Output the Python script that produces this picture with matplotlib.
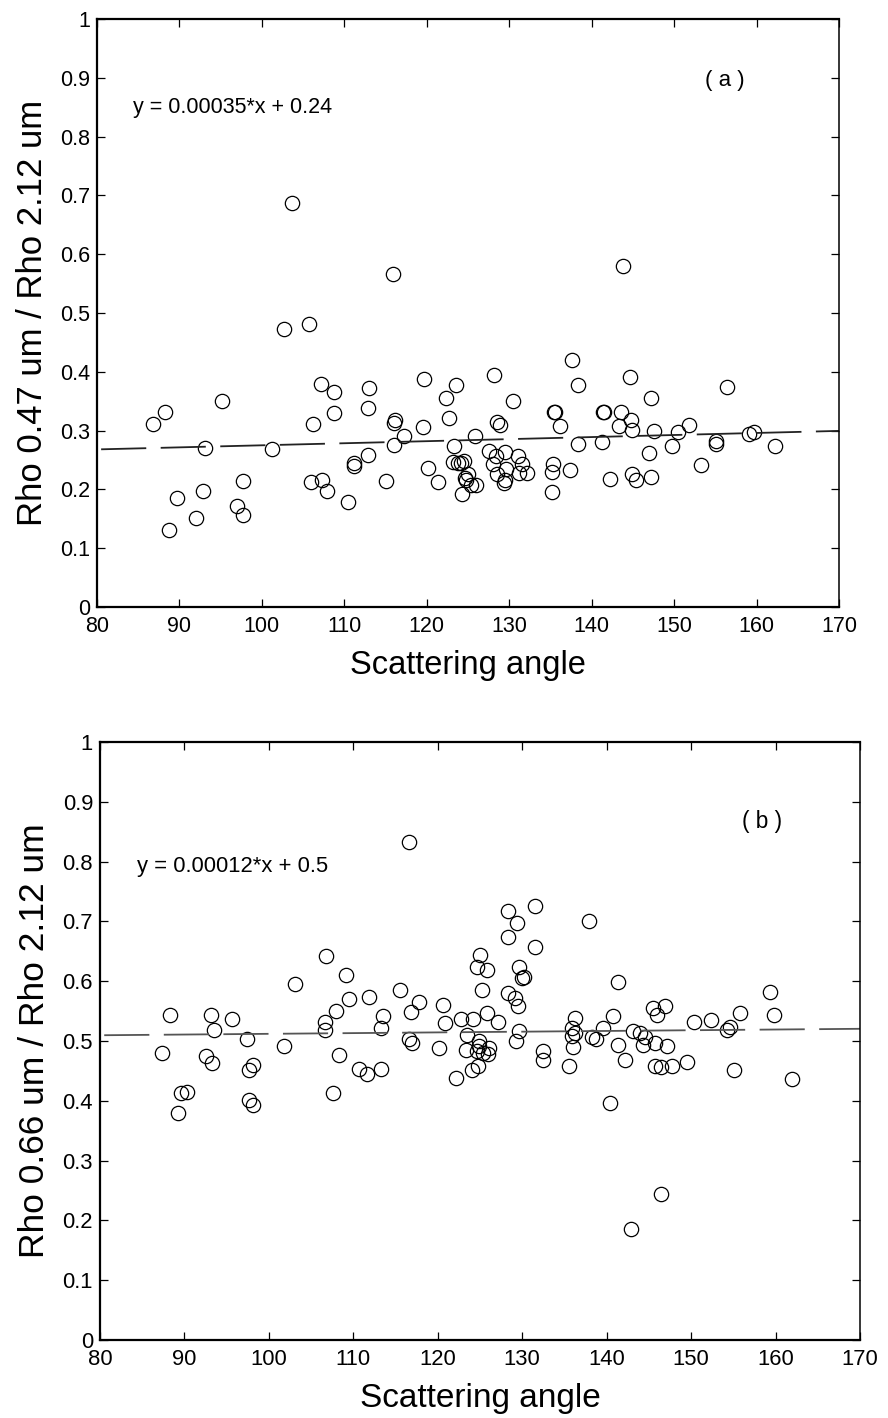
"""Rho ratio vs scattering angle: two scatter panels with linear fits."""

import numpy as np
import matplotlib
matplotlib.use('Agg')
import matplotlib.pyplot as plt

plt.rcParams['font.family'] = ['Liberation Sans', 'DejaVu Sans']

# ── panel (a): Rho 0.47 / Rho 2.12 ──
angle_a = [86.8, 88.2, 88.7, 89.7, 92.0, 92.9, 93.1, 95.2, 97.0, 97.7,
           97.7, 101.2, 102.7, 105.7, 106.2, 106.0, 107.2, 107.3, 107.9, 108.7,
           108.7, 110.4, 111.2, 111.2, 112.9, 112.9, 113.0, 115.1, 116.0, 116.0,
           116.2, 117.2, 119.6, 119.7, 120.2, 121.4, 103.7, 115.9, 143.8,
           122.3, 122.7, 123.6, 123.3, 123.2, 123.8, 124.1, 124.5, 124.6, 125.0,
           124.3, 124.8, 125.4, 126.0, 125.8, 127.5, 128.1, 128.4, 128.0, 128.5,
           128.9, 128.5, 129.5, 129.6, 129.4, 129.5, 130.5, 131.1, 131.5, 131.2,
           132.1, 135.3, 135.2, 135.2, 135.4, 135.5, 136.2, 137.4, 137.6, 138.4,
           138.4, 141.2, 141.4, 141.5, 142.2, 143.5, 143.3, 144.7, 144.8, 144.9,
           144.9, 145.4, 146.9, 147.2, 147.2, 147.6, 149.7, 150.5, 151.8, 153.3,
           155.1, 155.1, 156.4, 159.1, 159.7, 162.2]
ratio_a = [0.312, 0.332, 0.131, 0.186, 0.151, 0.198, 0.271, 0.351, 0.172, 0.157,
           0.215, 0.268, 0.473, 0.482, 0.312, 0.2125, 0.380, 0.216, 0.197, 0.365,
           0.330, 0.178, 0.245, 0.239, 0.259, 0.338, 0.373, 0.215, 0.275, 0.3125,
           0.318, 0.290, 0.306, 0.388, 0.236, 0.2125, 0.687, 0.566, 0.580,
           0.356, 0.321, 0.377, 0.274, 0.247, 0.245, 0.245, 0.248, 0.220, 0.227,
           0.193, 0.216, 0.207, 0.207, 0.291, 0.265, 0.395, 0.256, 0.244, 0.315,
           0.310, 0.226, 0.263, 0.235, 0.211, 0.216, 0.351, 0.257, 0.243, 0.228,
           0.228, 0.244, 0.230, 0.195, 0.332, 0.331, 0.307, 0.233, 0.420, 0.377,
           0.277, 0.280, 0.332, 0.331, 0.218, 0.332, 0.307, 0.391, 0.318, 0.301,
           0.226, 0.216, 0.2625, 0.356, 0.2215, 0.300, 0.274, 0.298, 0.309, 0.242,
           0.283, 0.277, 0.374, 0.294, 0.297, 0.274]
slope_a, icept_a = 0.00035, 0.24

# ── panel (b): Rho 0.66 / Rho 2.12 ──
angle_b = [116.6, 106.8, 103.1, 109.1, 109.5, 108.0, 111.8, 115.5, 117.8, 116.8,
           120.6, 88.3, 93.1, 95.6, 93.5, 87.3, 92.5, 93.3, 89.6, 90.3,
           89.2, 97.4, 97.7, 98.1, 97.7, 98.1, 101.8, 106.6, 106.6, 108.3,
           107.6, 110.7, 111.6, 113.5, 113.3, 113.3, 116.6, 117.0, 120.8, 120.1,
           122.2, 122.8, 124.2, 123.5, 123.3, 124.1,
           124.8, 124.9, 124.9, 124.6, 126.1, 125.8, 127.1, 125.3, 126.0, 128.3,
           129.1, 129.5, 129.6, 129.3, 132.5, 132.5, 135.5, 135.9, 136.3, 136.3,
           135.9, 136.0, 138.3, 138.7, 139.6, 140.8, 141.4, 141.4, 140.4, 142.2,
           143.1, 143.9, 144.5, 144.3, 145.7, 145.5, 146.0, 146.9, 147.2, 145.7,
           146.4, 147.7, 149.5, 150.4, 152.3, 154.6, 154.2, 155.8, 155.1, 159.3,
           159.8, 161.9, 146.4, 142.9, 125.2,
           128.3, 129.4, 131.5, 128.3, 131.5, 137.9, 125.0, 124.6, 125.8, 129.6,
           130.0, 130.2]
ratio_b = [0.833, 0.642, 0.596, 0.610, 0.570, 0.550, 0.574, 0.585, 0.566, 0.548,
           0.561, 0.544, 0.544, 0.536, 0.518, 0.480, 0.475, 0.463, 0.4125, 0.4153,
           0.380, 0.504, 0.452, 0.460, 0.402, 0.393, 0.492, 0.531, 0.518, 0.477,
           0.4125, 0.453, 0.444, 0.542, 0.522, 0.453, 0.504, 0.497, 0.530, 0.488,
           0.438, 0.536, 0.536, 0.510, 0.485, 0.452,
           0.459, 0.500, 0.492, 0.483, 0.489, 0.546, 0.532, 0.480, 0.479, 0.580,
           0.572, 0.559, 0.516, 0.500, 0.483, 0.468, 0.459, 0.521, 0.538, 0.514,
           0.508, 0.490, 0.507, 0.503, 0.521, 0.541, 0.494, 0.599, 0.396, 0.4675,
           0.517, 0.514, 0.506, 0.494, 0.497, 0.556, 0.544, 0.559, 0.492, 0.458,
           0.456, 0.459, 0.465, 0.532, 0.535, 0.524, 0.518, 0.546, 0.451, 0.582,
           0.544, 0.436, 0.244, 0.185, 0.585,
           0.718, 0.698, 0.726, 0.674, 0.657, 0.701, 0.644, 0.624, 0.618, 0.623,
           0.605, 0.607]
slope_b, icept_b = 0.00012, 0.5

fit_x = np.array([80.5, 170.0])


def draw_panel(ax, ang, ratio, slope, icept, ylabel, eq_text, eq_pos, tag, tag_pos,
               line_color, tick_fs, label_fs, ylabel_fs):
    ax.plot(ang, ratio, linestyle='none', marker='o', markersize=10.3,
            markerfacecolor='none', markeredgecolor='black', markeredgewidth=0.9)
    ax.plot(fit_x, slope * fit_x + icept, color=line_color, linewidth=1.3,
            dashes=(25, 8))

    ax.set_xlim(80, 170)
    ax.set_ylim(0, 1)
    ax.set_xticks(np.arange(80, 171, 10))
    ax.set_yticks(np.arange(0, 1.01, 0.1))
    ax.set_yticklabels([f'{v:g}' for v in np.round(np.arange(0, 1.01, 0.1), 1)])
    ax.tick_params(direction='in', top=True, right=True, labelsize=tick_fs,
                   length=5.5, width=0.9)
    ax.tick_params(axis='y', pad=5)
    ax.tick_params(axis='x', pad=6.5)
    for side in ['left', 'bottom', 'top']:
        ax.spines[side].set_linewidth(1.6)
    ax.spines['right'].set_linewidth(1.1)

    ax.set_xlabel('Scattering angle', fontsize=label_fs, labelpad=9)
    ax.set_ylabel(ylabel, fontsize=ylabel_fs, labelpad=8)

    ax.text(eq_pos[0], eq_pos[1], eq_text, fontsize=tick_fs, ha='left', va='center')
    ax.text(tag_pos[0], tag_pos[1], tag, fontsize=tick_fs + 0.5, ha='left', va='center')


fig = plt.figure(figsize=(8.88, 14.18), dpi=100)

ax_a = fig.add_axes([97 / 888, 1 - 607 / 1418, 742 / 888, 588 / 1418])
draw_panel(ax_a, angle_a, ratio_a, slope_a, icept_a,
           'Rho 0.47 um / Rho 2.12 um', 'y = 0.00035*x + 0.24', (84.4, 0.85),
           '( a )', (153.8, 0.896), '#222222', 15.5, 23.5, 25)

ax_b = fig.add_axes([100 / 888, 1 - 1340 / 1418, 760 / 888, 598 / 1418])
draw_panel(ax_b, angle_b, ratio_b, slope_b, icept_b,
           'Rho 0.66 um / Rho 2.12 um', 'y = 0.00012*x + 0.5', (84.4, 0.791),
           '( b )', (156.0, 0.867), '#555555', 15.8, 24, 25.5)

fig.savefig('out.png', dpi=100)
plt.close(fig)
